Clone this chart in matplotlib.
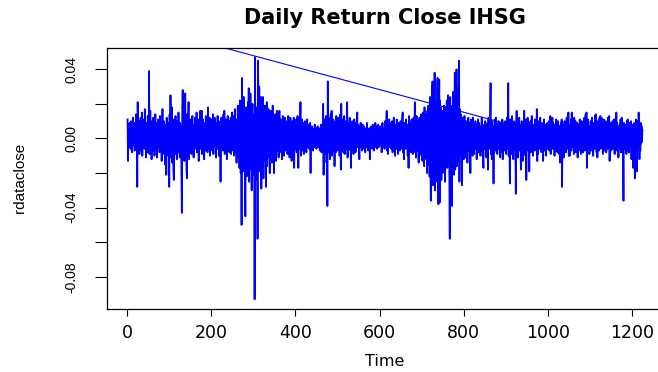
import numpy as np
import matplotlib
matplotlib.use("Agg")
import matplotlib.pyplot as plt

plt.rcParams['font.family'] = ['DejaVu Sans']
narrow = ['Liberation Sans', 'DejaVu Sans']

# daily returns, in units of 0.001 (t = 1..1225)
rdataclose_milli = [
    11, -13, 8, 2, -5, 9, 4, -6, 10, -2, 3, -8, 7, 12, -4, 1, 9, -7, 5, -3, 14, -6, 6, -28, 21,
    -5, 3, 10, -9, 6, -2, 12, -7, 4, 15, -10, 8, 1, -4, 11, -6, 17, -3, 7, -11, 5, 9, -8, 13, 2,
    -6, 39, -9, 7, 16, -4, 3, -12, 10, 5, -7, 12, -2, 8, -10, 4, 14, -6, 2, 9, -11, 6, -3, 11, -5,
    7, -8, 13, 1, -4, 9, -13, 5, 17, -6, 3, 10, -9, 6, -15, 8, 2, -21, 12, -5, 4, 9, -10, 7, -28,
    14, -7, 25, -11, 6, 18, -14, 3, 9, -19, -24, 11, -6, 4, 13, -9, 7, -12, 10, 2, -8, 15, -5, 6, -11,
    9, -3, 7, -16, -43, 12, 28, -10, 5, 19, -13, 8, 26, -7, 3, -18, -23, 14, -4, 9, 21, -12, 6, -8, 11,
    -5, 10, -9, 4, 13, -7, 6, -11, 8, 2, 12, -6, 9, -3, 15, -8, 5, -2, 11, -13, -10, 7, 4, 16, -6,
    8, 16, -9, 3, 11, -5, 7, -12, 2, 9, -7, 13, -4, 6, 10, -8, 18, -3, 5, -6, 12, -10, 4, 8, -5,
    11, -7, 3, 14, -9, 6, -4, 12, -2, 8, -11, 5, 9, -6, 13, -3, 7, -10, 4, -8, 10, -25, 6, 12, -5,
    3, 9, -7, 14, -4, 16, -9, 6, 11, -3, 8, -12, 5, 13, -6, 2, 10, -8, 7, -5, 12, -9, 4, 15, -7,
    9, -4, 13, -10, 6, 17, -8, 3, 11, -14, 7, -6, 19, -11, 4, 14, -17, 22, -9, -20, 8, -50, 35, -12, 16,
    -19, 24, -8, 13, -27, -45, 10, 18, -22, 7, -14, 21, -9, 29, -25, 12, -18, 26, -11, 15, -30, 9, 20, -16, 11,
    -21, 14, -93, 47, -24, 10, 18, -15, 8, -58, 45, 22, -19, 30, -12, 17, -9, 24, -29, 13, 20, -14, 24, -23, 11,
    -13, 19, -8, 15, -28, 12, 21, -16, 9, -11, 17, -7, 13, -20, 6, 16, -10, 11, -14, 8, 19, -6, 12, -20, 7,
    -9, 14, -5, -13, 10, 16, -7, 4, 12, -11, 7, 16, -8, 3, 11, -6, 9, -12, 5, 13, -4, 8, -10, 6, 12,
    -7, 4, 10, -5, 8, -9, 3, 13, -6, 9, -11, 5, 12, -4, 7, -13, 2, 10, -8, 6, 12, -17, 4, -6, 9,
    -5, 11, -8, 6, 13, -3, -17, 9, -6, 12, 4, 21, -10, 7, -4, 11, -7, 3, 9, -9, 5, -5, 10, -3, 6,
    -8, 4, 11, -5, 7, -2, 8, -6, 3, 9, -20, 5, -4, 7, -3, 6, -7, 2, 5, -5, 8, -4, 3, 6, -6,
    4, -3, 7, -5, 2, 6, 3, -7, 5, -2, 8, -8, 4, -3, 7, 20, -21, 9, -6, 11, -9, 5, 13, -14, 6,
    -39, 33, -8, 12, -5, 9, -12, 7, 14, 3, 16, -10, 6, -7, 11, -4, 8, -16, 5, 10, -8, 13, -6, 4, 9,
    -7, 12, -5, 8, -10, 6, 14, -18, 20, -6, 9, -3, 11, -8, 5, 13, -9, 7, -4, 10, -6, 8, 21, -11, 5,
    -7, 9, -4, 12, -6, 3, -17, 8, -5, 10, -3, 7, -9, 5, 11, -6, 4, -8, 9, -2, 6, 15, -5, 8, -4,
    3, -12, 7, -5, 9, -3, 6, -7, 4, 8, -6, 2, 7, -4, 5, -8, 3, 6, -5, 9, -2, 4, -7, 5, -3,
    6, -12, 4, -4, 7, -3, 5, -6, 8, -2, 3, -7, 6, -4, 9, -5, 2, 7, -6, 4, -3, 8, -5, 3, 6,
    -4, 7, -2, 5, -8, 4, 9, -5, 3, -3, 6, -6, 10, 4, -4, 7, 16, -7, 5, -9, 8, -3, 11, -5, 6,
    -4, 9, -6, 3, 10, -8, 5, -2, 12, -5, 7, -10, 4, 8, -6, 11, -3, 6, -9, 9, -4, 7, -7, 5, 10,
    -6, 8, -3, 12, 15, -8, 6, -12, 9, -4, 7, -6, 11, -5, 3, 8, -10, 5, -17, 13, -7, 9, -4, 6, -8,
    11, -5, 7, -9, 4, 12, -6, 9, 21, -8, 5, -11, 13, -4, 8, -7, 10, -14, 6, 12, -9, 7, -5, 14, -10,
    8, -13, 15, -7, 11, -16, 18, -9, 6, 14, -12, 9, -20, 16, -8, 19, -15, 11, -22, 24, -18, -36, 20, -12, 28,
    33, -27, 17, -22, 14, 38, -30, 12, -25, 21, -16, 26, 35, -19, -38, 15, 34, -37, 22, -14, 18, -24, 11, 16, -20,
    9, -15, 19, -11, 14, -25, 18, -13, 8, 22, -17, 11, 25, -9, 14, -20, -58, 24, -15, 10, -30, -39, 19, -12, 27,
    15, -21, 12, 38, -18, 24, 13, 40, -16, 29, 9, -13, 21, 45, -25, 17, -10, 14, -8, 11, -27, 12, -6, 9, -12,
    7, 13, -9, 5, -11, 10, -4, 8, -14, 6, 12, -7, 9, -5, 3, -20, 11, -6, 8, 4, -10, 12, -3, 7, -9,
    5, -6, 10, -4, 8, -12, 6, -3, 11, -8, 4, 9, -5, 7, -10, 5, -7, 12, -4, 6, -9, -17, 3, 8, -6,
    10, -5, 7, -11, 4, 9, -7, -18, 12, -6, 5, 8, 14, 32, -9, 6, -12, 10, -4, 7, -26, 5, -8, 11, -3,
    6, 12, -7, 4, -9, 8, -5, 10, -6, 3, 9, -11, 7, -4, 5, -8, 11, -12, 6, -3, 8, -7, 10, -5, 4,
    -9, 7, 12, -6, 5, 32, -10, 8, -4, -26, 11, -7, 6, -9, 13, -5, 8, -12, 4, 10, -6, 9, -3, -32, 7,
    16, -8, 5, -11, 9, -4, 12, -7, 3, 8, -18, -6, 10, -5, 7, -13, 4, 9, 16, -8, 6, -10, 11, -24, 8,
    -5, 12, -7, 4, 9, -19, 6, -3, 10, -8, 5, 13, -6, 3, -10, 8, -4, 7, -7, 11, -5, 9, 4, 17, -13,
    6, -9, 10, -4, 8, -6, 12, -3, 5, -8, 9, -5, 7, -13, 4, 11, -7, 6, -2, 8, -10, 5, -4, 9, -6,
    7, -3, 10, -7, 5, 13, -9, 4, -5, 8, 12, -6, 9, -4, 6, -10, 3, 8, -7, 11, -5, 4, -8, 10, -3,
    6, -9, 7, -14, 5, 9, -6, 11, -28, 4, -5, 8, -11, 6, 10, -4, 7, -8, 3, 12, -6, 9, -3, 15, -10,
    6, -10, 8, -4, 11, -7, 15, -5, 9, -3, 7, -9, 12, -6, 5, 10, -8, 4, -5, 9, -11, 6, -3, 8, -7,
    11, -4, 7, -9, 5, 10, -6, 3, -8, 9, -5, 12, -7, 6, 14, -4, 15, -17, 8, -6, 11, -3, 7, -9, 5,
    -4, 10, -7, 6, 12, -5, 8, -10, 4, 9, -6, 13, -3, 14, 7, -8, 5, -11, 10, -4, 6, -7, 12, -5, 13,
    -6, 8, 12, -4, 9, -9, 5, -3, 11, -7, 6, -5, 10, -8, 4, 7, -6, 12, -3, 8, 13, -13, 6, -4, 9,
    -7, 5, -3, 10, -6, 8, -4, 11, -9, 6, 3, -5, 15, -7, 9, -4, 7, -11, 5, -2, 8, -6, 11, -8, 4,
    12, -5, 7, -10, -36, 9, -6, 4, 8, -4, 6, -9, 10, -3, 11, -7, 5, -8, 9, -5, 7, -4, 10, -12, 6,
    -6, 8, -17, 5, -10, 9, -23, -14, 7, 11, -9, -19, 6, 10, -5, 15, 8, -12, 4, -7, 9, -3, 7, -2, 5,
]

# thin straight line drawn over the series
trend_t = [225, 960]
trend_v = [0.0528, 0.0047]

xticks = [0, 200, 400, 600, 800, 1000, 1200]
yticks = [-0.08, -0.06, -0.04, -0.02, 0.00, 0.02, 0.04]
ylabels = ['-0.08', '', '-0.04', '', '0.00', '', '0.04']

rdataclose = np.array(rdataclose_milli) / 1000.0
time = np.arange(1, len(rdataclose) + 1)

fig = plt.figure(figsize=(6.58, 3.72), dpi=100)
ax = fig.add_axes([107 / 658, 63 / 372, 556 / 658, 261.5 / 372])

ax.plot(time, rdataclose, color='#0000ff', linewidth=1.3)
ax.plot(trend_t, trend_v, color='#0000ff', linewidth=0.8)

# R style 4% padding
xr = time[-1] - time[0]
ax.set_xlim(time[0] - 0.04 * xr, time[-1] + 0.04 * xr)
yr = rdataclose.max() - rdataclose.min()
ax.set_ylim(rdataclose.min() - 0.04 * yr, rdataclose.max() + 0.04 * yr)

ax.set_xticks(xticks)
ax.set_xticklabels([str(v) for v in xticks], fontsize=12.5)
ax.set_yticks(yticks)
ax.set_yticklabels(ylabels, rotation=90, va='center', family=narrow, fontsize=10)
ax.tick_params(axis='x', length=5.2, width=0.8, pad=5.5)
ax.tick_params(axis='y', length=8.8, width=0.8, pad=12)
for s in ax.spines.values():
    s.set_linewidth(0.9)

fig.text(0.585, 1 - 18 / 372, 'Daily Return Close IHSG', ha='center', va='center',
         fontsize=15, fontweight='bold')
fig.text(0.585, 1 - 362 / 372, 'Time', ha='center', va='center', fontsize=11.5)
fig.text(20 / 658, 1 - 178 / 372, 'rdataclose', ha='center', va='center',
         rotation=90, family=narrow, fontsize=11)

fig.savefig('out.png', dpi=100)
